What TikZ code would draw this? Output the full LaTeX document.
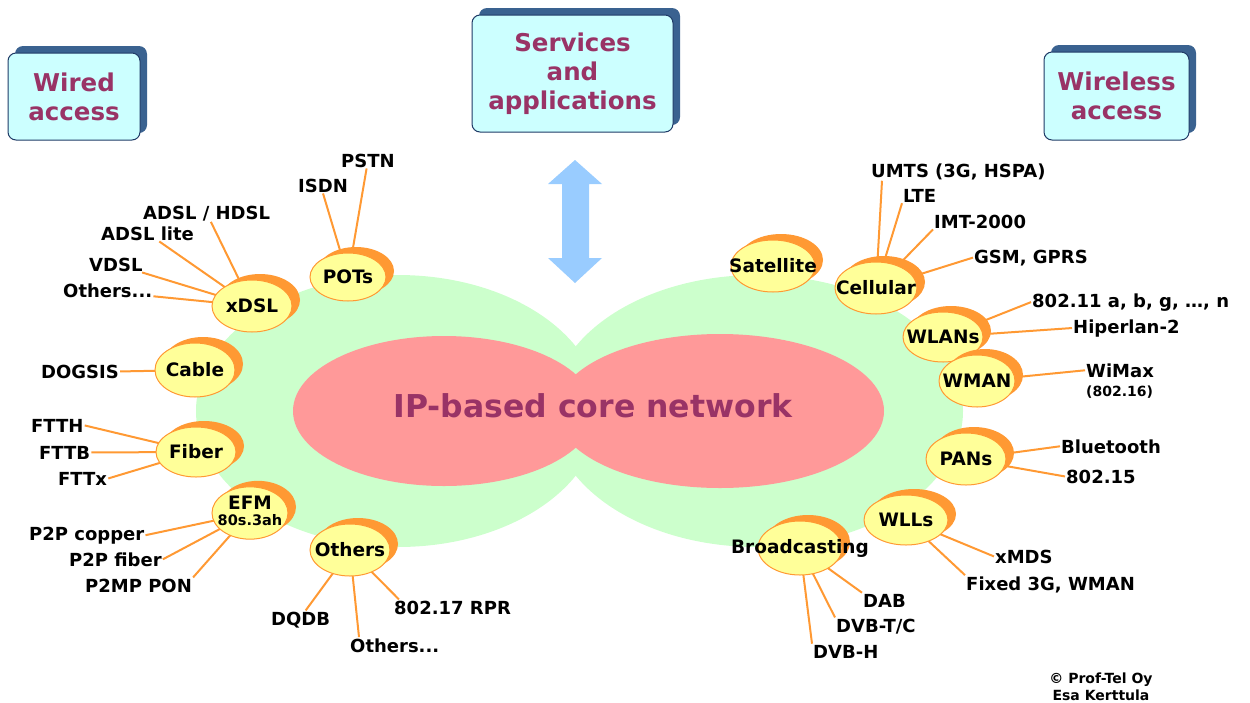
\documentclass[tikz,border=0pt]{standalone}
\usepackage{fontspec}
\setmainfont{DejaVu Sans}
\usetikzlibrary{shapes.geometric,shadows,calc}
\definecolor{boxfill}{HTML}{CCFFFF}
\definecolor{boxline}{HTML}{1F3A66}
\definecolor{boxshadow}{HTML}{3A6290}
\definecolor{ptext}{HTML}{993366}
\definecolor{lgreen}{HTML}{CCFFCC}
\definecolor{lpink}{HTML}{FF9999}
\definecolor{lyellow}{HTML}{FFFF99}
\definecolor{lorange}{HTML}{FF9933}
\definecolor{lblue}{HTML}{99CCFF}
\pgfdeclarelayer{back}
\pgfdeclarelayer{lines}
\pgfsetlayers{back,lines,main}
\begin{document}
\begin{tikzpicture}[x=1pt,y=-1pt,
  box/.style={rectangle, rounded corners=8pt, draw=boxline, line width=1pt, fill=boxfill,
    general shadow={fill=boxshadow, shadow xshift=7pt, shadow yshift=7pt},
    text=ptext, align=center, font=\fontsize{24.5}{29}\selectfont\bfseries, inner sep=0pt},
  ell/.style={ellipse, draw=lorange, line width=1pt, fill=lyellow, minimum width=80pt,
    minimum height=52pt, inner sep=0pt,
    general shadow={fill=lorange, shadow xshift=8pt, shadow yshift=6pt},
    font=\fontsize{18.5}{21}\selectfont\bfseries},
  lab/.style={anchor=base west, inner sep=1pt, font=\fontsize{18}{21}\selectfont\bfseries},
  sml/.style={anchor=base west, inner sep=1pt, font=\fontsize{14}{16}\selectfont\bfseries},
  con/.style={draw=lorange, line width=2pt}
]
\useasboundingbox (0,0) rectangle (1250,702);

% core shapes
\begin{pgfonlayer}{back}
  \fill[lgreen] (398,411) ellipse [x radius=202pt, y radius=136pt];
  \fill[lgreen] (757,411) ellipse [x radius=206pt, y radius=136pt];
  \fill[lpink] (444,411) ellipse [x radius=151pt, y radius=75pt];
  \fill[lpink] (720,411) ellipse [x radius=164pt, y radius=77pt];
\end{pgfonlayer}
\node[anchor=base, text=ptext, font=\fontsize{31.5}{36}\selectfont\bfseries, inner sep=0pt] (core) at (593,417) {IP-based core network};

% boxes
\node[box, minimum width=132pt, minimum height=87pt] (wired) at (74,96.5) {Wired\\access};
\node[box, minimum width=201pt, minimum height=117pt] (serv) at (572.5,73.5) {Services\\and\\applications};
\node[box, minimum width=145pt, minimum height=88pt] (wless) at (1116.5,96) {Wireless\\access};

% double arrow
\fill[lblue] (575,160) -- (602,184) -- (589,184) -- (589,258) -- (602,258) -- (575,283)
  -- (548,258) -- (562,258) -- (562,184) -- (548,184) -- cycle;

% access technology ellipses
\node[ell, minimum width=76pt, minimum height=48pt] (pots) at (348,277) {\makebox[0pt]{POTs}};
\node[ell] (xdsl) at (252,306) {\makebox[0pt]{xDSL}};
\node[ell, minimum height=54pt] (cable) at (195,370) {\makebox[0pt]{Cable}};
\node[ell, minimum height=50pt] (fiber) at (196,452) {\makebox[0pt]{Fiber}};
\node[ell, minimum width=76pt, minimum height=50pt] (efm) at (250,513) {\makebox[0pt]{\begin{tabular}{@{}c@{}}EFM\\[-5pt]\fontsize{14.5}{16}\selectfont 80s.3ah\end{tabular}}};
\node[ell] (othl) at (350,550) {\makebox[0pt]{Others}};

\node[ell, minimum width=84pt] (sat) at (773,266) {\makebox[0pt]{Satellite}};
\node[ell, minimum width=82pt] (cell) at (876,288) {\makebox[0pt]{Cellular}};
\node[ell, minimum height=50pt] (wlans) at (943,337) {\makebox[0pt]{WLANs}};
\node[ell, minimum width=76pt] (wman) at (977,381) {\makebox[0pt]{WMAN}};
\node[ell] (pans) at (966,459) {\makebox[0pt]{PANs}};
\node[ell, minimum width=84pt, minimum height=50pt] (wlls) at (906,520) {\makebox[0pt]{WLLs}};
\node[ell, minimum width=84pt, minimum height=54pt] (bcast) at (800,548) {\makebox[0pt]{Broadcasting}};

% labels, left
\node[lab] (pstn) at (340,167) {PSTN};
\node[lab] (isdn) at (297,192) {ISDN};
\node[lab] (adslh) at (142,219) {ADSL / HDSL};
\node[lab] (adsll) at (100,240) {ADSL lite};
\node[lab] (vdsl) at (88,271) {VDSL};
\node[lab] (othx) at (62,297) {Others...};
\node[lab] (dogsis) at (40,378) {DOGSIS};
\node[lab] (ftth) at (30,432) {FTTH};
\node[lab] (fttb) at (38,459) {FTTB};
\node[lab] (fttx) at (57,485) {FTTx};
\node[lab] (p2pc) at (28,540) {P2P copper};
\node[lab] (p2pf) at (68,566) {P2P fiber};
\node[lab] (p2mp) at (84,592) {P2MP PON};
\node[lab] (dqdb) at (270,625) {DQDB};
\node[lab] (oth2) at (349,652) {Others...};
\node[lab] (rpr) at (393,614) {802.17 RPR};

% labels, right
\node[lab] (umts) at (870,177) {UMTS (3G, HSPA)};
\node[lab] (lte) at (902,202) {LTE};
\node[lab] (imt) at (933,228) {IMT-2000};
\node[lab] (gsm) at (973,263) {GSM, GPRS};
\node[lab] (wifi) at (1031,307) {802.11 a, b, g, …, n};
\node[lab] (hiper) at (1072,333) {Hiperlan-2};
\node[lab] (wimax) at (1085,377) {WiMax};
\node[sml] (w80216) at (1085,396) {(802.16)};
\node[lab] (bt) at (1060,453) {Bluetooth};
\node[lab] (w80215) at (1065,483) {802.15};
\node[lab] (xmds) at (994,563) {xMDS};
\node[lab] (fixed) at (965,590) {Fixed 3G, WMAN};
\node[lab] (dab) at (862,607) {DAB};
\node[lab] (dvbtc) at (835,632) {DVB-T/C};
\node[lab] (dvbh) at (812,658) {DVB-H};

\node[sml, anchor=base] (copy1) at (1101,683) {© Prof-Tel Oy};
\node[sml, anchor=base] (copy2) at (1101,700) {Esa Kerttula};

% connectors
\begin{pgfonlayer}{lines}
  \draw[con] (pstn) -- (pots.center);
  \draw[con] (isdn.south) -- (pots.center);
  \draw[con] (adslh) -- (xdsl.center);
  \draw[con] (adsll) -- (xdsl.center);
  \draw[con] (vdsl) -- (xdsl.center);
  \draw[con] ([yshift=-6pt]othx.east) -- (xdsl.center);
  \draw[con] (dogsis.east) -- (cable.center);
  \draw[con] (ftth.east) -- (fiber.center);
  \draw[con] (fttb.east) -- (fiber.center);
  \draw[con] (fttx.east) -- (fiber.center);
  \draw[con] (p2pc.east) -- (efm.center);
  \draw[con] (p2pf.east) -- (efm.center);
  \draw[con] (p2mp.north east) -- (efm.center);
  \draw[con] ([xshift=5pt]dqdb.north) -- (othl.center);
  \draw[con] ([xshift=10pt]oth2.north west) -- (othl.center);
  \draw[con] ([xshift=6pt]rpr.north west) -- (othl.center);
  \draw[con] ([xshift=12pt]umts.south west) -- (cell.center);
  \draw[con] (lte.south west) -- (cell.center);
  \draw[con] (imt.south west) -- (cell.center);
  \draw[con] (gsm.west) -- (cell.center);
  \draw[con] (wifi.west) -- (wlans.center);
  \draw[con] (hiper.west) -- (wlans.center);
  \draw[con] (wimax.west) -- (wman.center);
  \draw[con] (bt.west) -- (pans.center);
  \draw[con] (w80215.west) -- (pans.center);
  \draw[con] (xmds.west) -- (wlls.center);
  \draw[con] (fixed.north west) -- (wlls.center);
  \draw[con] (dab.north west) -- (bcast.center);
  \draw[con] (dvbtc.north west) -- (bcast.center);
  \draw[con] (dvbh.north west) -- (bcast.center);
\end{pgfonlayer}
\end{tikzpicture}
\end{document}
